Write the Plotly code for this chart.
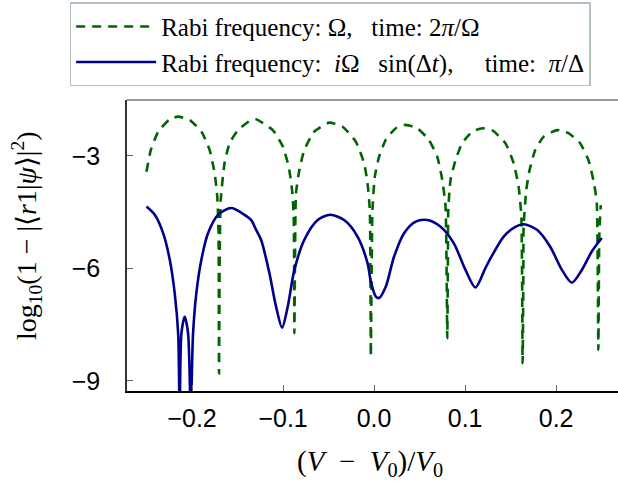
import plotly.graph_objects as go

# ---- data ----
green_x = [-0.2501, -0.2453, -0.2372, -0.2245, -0.2153, -0.2026, -0.1898, -0.1807, -0.1752, -0.1723,
           -0.1709, -0.1704, -0.1696, -0.1685, -0.1643, -0.1588, -0.1496, -0.1350, -0.1296, -0.1113,
           -0.1003, -0.0938, -0.0901, -0.0883, -0.0876, -0.0869, -0.0858, -0.0821, -0.0767, -0.0657,
           -0.0493, -0.0346, -0.0200, -0.0110, -0.0072, -0.0047, -0.0036, -0.0028, -0.0018, 0.0008,
           0.0055, 0.0128, 0.0238, 0.0347, 0.0475, 0.0602, 0.0694, 0.0749, 0.0785, 0.0804,
           0.0811, 0.0815, 0.0840, 0.0895, 0.0968, 0.1078, 0.1191, 0.1300, 0.1443, 0.1533,
           0.1588, 0.1618, 0.1632, 0.1640, 0.1643, 0.1672, 0.1709, 0.1771, 0.1862, 0.2009,
           0.2136, 0.2264, 0.2355, 0.2417, 0.2447, 0.2464, 0.2475, 0.2491]
green_y = [-3.42, -2.84, -2.35, -2.02, -1.95, -2.04, -2.35, -2.84, -3.46, -4.09,
           -5.06, -8.80, -5.51, -4.17, -3.19, -2.66, -2.31, -2.04, -2.02, -2.31,
           -2.75, -3.29, -3.91, -4.62, -7.73, -5.77, -3.99, -3.37, -2.84, -2.35,
           -2.11, -2.22, -2.62, -3.19, -3.73, -4.44, -8.35, -6.31, -4.44, -3.55,
           -3.02, -2.57, -2.26, -2.17, -2.26, -2.57, -3.02, -3.64, -4.35, -7.86,
           -5.77, -4.44, -3.64, -3.11, -2.66, -2.35, -2.26, -2.32, -2.66, -3.19,
           -3.82, -4.62, -8.53, -6.31, -4.89, -3.91, -3.37, -2.84, -2.49, -2.31,
           -2.39, -2.66, -3.11, -3.73, -4.26, -8.17, -5.06, -4.31]

blue_x = [-0.2501, -0.2410, -0.2318, -0.2245, -0.2191, -0.2153, -0.2136, -0.2117, -0.2081, -0.2044,
          -0.2015, -0.1989, -0.1953, -0.1898, -0.1825, -0.1715, -0.1570, -0.1424, -0.1350, -0.1296,
          -0.1241, -0.1150, -0.1077, -0.1011, -0.0949, -0.0876, -0.0767, -0.0620, -0.0482, -0.0329,
          -0.0182, -0.0072, -0.0036, 0.0019, 0.0055, 0.0128, 0.0219, 0.0329, 0.0457, 0.0585,
          0.0731, 0.0876, 0.1004, 0.1114, 0.1223, 0.1300, 0.1424, 0.1552, 0.1643, 0.1790,
          0.1935, 0.2064, 0.2173, 0.2283, 0.2392, 0.2502]
blue_y = [-4.35, -4.57, -5.06, -5.77, -6.66, -7.73, -9.80, -7.73, -7.29, -7.73,
          -9.80, -7.73, -6.66, -5.77, -5.06, -4.57, -4.39, -4.57, -4.71, -4.97,
          -5.24, -6.13, -7.02, -7.58, -7.02, -6.04, -5.24, -4.71, -4.57, -4.71,
          -5.15, -5.86, -6.35, -6.75, -6.79, -6.49, -5.69, -5.06, -4.75, -4.71,
          -4.89, -5.33, -6.04, -6.51, -5.99, -5.64, -5.15, -4.89, -4.82, -4.97,
          -5.42, -6.04, -6.38, -6.04, -5.55, -5.19]

x_ticks = [-0.2, -0.1, 0.0, 0.1, 0.2]
y_ticks = [-3, -6, -9]

NB = "\u00a0"
name_green = "Rabi frequency:" + NB + "Ω," + NB * 3 + "time:" + NB + "2<i>π</i>/Ω"
name_blue = ("Rabi frequency:" + NB * 2 + "<i>i</i>Ω" + NB * 3 + "sin(Δ<i>t</i>)," + NB * 5
             + "time:" + NB * 2 + "<i>π</i>/Δ")
x_title = "(<i>V</i>" + NB * 2 + "−" + NB * 2 + "<i>V</i><sub>0</sub>)/<i>V</i><sub>0</sub>"
y_title = ("log<sub>10</sub>(1" + NB + "−" + NB + "|⟨<i>r</i>1|<i>ψ</i>⟩|<sup>2</sup>)")

SERIF = "Liberation Serif, DejaVu Serif, serif"
SANS = "Liberation Sans, Arial, sans-serif"

fig = go.Figure()
fig.add_trace(go.Scatter(x=green_x, y=green_y, mode="lines", name=name_green,
                         legendgroup="g",
                         line=dict(color="#006400", width=2.6, dash="9px,7px",
                                   shape="spline", smoothing=0.5)))
fig.add_trace(go.Scatter(x=blue_x, y=blue_y, mode="lines", name=name_blue,
                         legendgroup="b",
                         line=dict(color="#00008B", width=2.6, shape="spline", smoothing=0.8)))

fig.update_layout(
    width=618, height=485,
    margin=dict(l=127, r=0, t=100, b=94),
    paper_bgcolor="white", plot_bgcolor="white",
    showlegend=True,
    legend=dict(x=-0.1168, y=1.336, xanchor="left", yanchor="top",
                bgcolor="white", bordercolor="#b4c4b4", borderwidth=1.5,
                font=dict(family=SERIF, size=25, color="black"),
                itemwidth=80, tracegroupgap=0),
    xaxis=dict(range=[-0.2715, 0.268], tickvals=x_ticks, tickformat=".1f",
               ticks="inside", ticklen=6, tickwidth=1.2, tickcolor="#666",
               showline=True, linecolor="black", linewidth=1.5,
               showgrid=False, zeroline=False,
               tickfont=dict(family=SANS, size=25, color="black"),
               ticklabelstandoff=4),
    yaxis=dict(range=[-9.27, -1.507], tickvals=y_ticks,
               ticks="inside", ticklen=6, tickwidth=1.2, tickcolor="#666",
               showline=True, linecolor="#333", linewidth=1.5,
               showgrid=False, zeroline=False,
               tickfont=dict(family=SANS, size=25, color="black"),
               ticklabelstandoff=20),
    shapes=[dict(type="line", xref="paper", yref="paper", x0=0, x1=1, y0=1, y1=1,
                 line=dict(color="#777", width=1.5))],
    annotations=[
        dict(text=x_title, xref="paper", yref="paper", x=(370 - 127) / 491, y=-(463 - 391) / 291,
             xanchor="center", yanchor="middle", showarrow=False,
             font=dict(family=SERIF, size=29, color="black")),
        dict(text=y_title, xref="paper", yref="paper", x=-(127 - 26) / 491, y=(391 - 236) / 291,
             xanchor="center", yanchor="middle", showarrow=False, textangle=-90,
             font=dict(family=SERIF, size=28, color="black")),
    ],
)

fig.write_html("out.html")
